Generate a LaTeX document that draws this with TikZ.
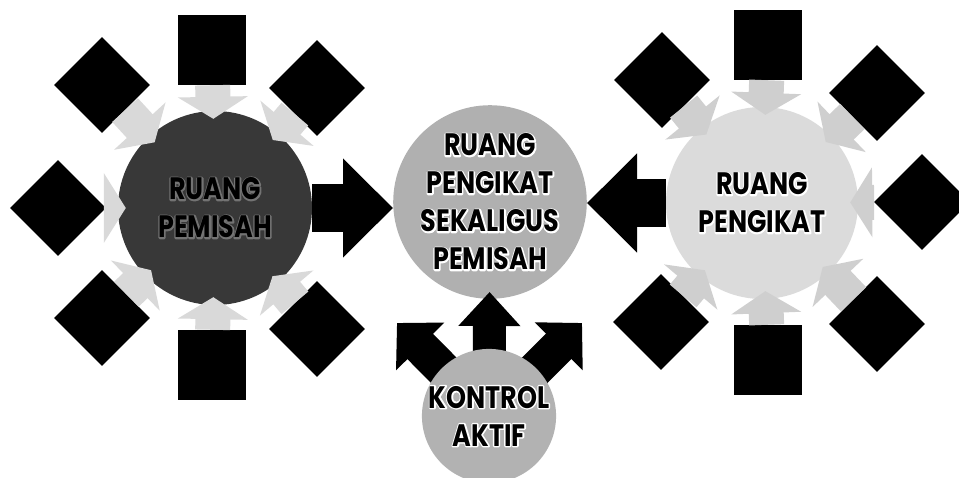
\documentclass[tikz,border=0pt]{standalone}
\usepackage{fontspec}
\newfontfamily\lblfont{Poppins}[FakeStretch=0.82]
\usetikzlibrary{shapes.geometric, arrows.meta}

% outline under the text (stroke only, grey level #1), then the text itself
\newcommand{\halo}[2][1]{\makebox[0pt][l]{\special{pdf:literal 1 Tr #1 G 2.8 w 1 j}#2\special{pdf:literal 0 Tr 0 G 1 w}}#2}

\tikzset{
  blob/.style={fill=black, draw=none, inner sep=0pt},
  sqbox/.style={blob, rectangle, minimum width=68, minimum height=70},
  dmd/.style={blob, diamond, minimum size=96},
  ruang/.style={circle, draw=none, inner sep=0pt, align=center,
    font=\lblfont\bfseries\fontsize{31}{38}\selectfont},
  inarrow/.style={draw=#1, line width=35pt, -{Triangle[width=69pt,length=22pt]}, shorten >=-8pt},
  inarrow/.default=gray!30,
  bigarrow/.style={draw=black, line width=48pt, -{Triangle[width=96pt,length=50pt]}},
  outarrow/.style={draw=black, line width=36pt, -{Triangle[width=66pt,length=33pt]}}
}

\begin{document}
\begin{tikzpicture}[x=1pt, y=-1pt]
\useasboundingbox (0,0) rectangle (959,478);

% left cluster
\node[ruang, fill=black!78, minimum size=194] (pemisah) at (215,208)
  {\halo[0.45]{RUANG}\\\halo[0.45]{PEMISAH}};
\node[sqbox] (tsqA) at (212,50) {};
\node[sqbox] (bsqA) at (212,365) {};
\node[dmd] (tlA) at (102,85) {};
\node[dmd] (trA) at (317,88) {};
\node[dmd] (lA) at (58,208) {};
\node[dmd] (blA) at (102,318) {};
\node[dmd] (brA) at (317,329) {};
\foreach \s in {tsqA,bsqA,tlA,trA,lA,blA,brA}
  \draw[inarrow] (\s) -- (pemisah);

% right cluster
\node[ruang, fill=gray!28, minimum size=192] (pengikat) at (762,203)
  {\halo{RUANG}\\\halo{PENGIKAT}};
\node[sqbox] (tsqB) at (768,45) {};
\node[sqbox] (bsqB) at (768,360) {};
\node[dmd] (tlB) at (662,80) {};
\node[dmd] (trB) at (877,93) {};
\node[dmd] (rB) at (922,202) {};
\node[dmd] (blB) at (661,322) {};
\node[dmd] (brB) at (877,324) {};
\foreach \s in {tsqB,bsqB,tlB,trB,rB,blB,brB}
  \draw[inarrow=gray!38] (\s) -- (pengikat);

% center
\node[ruang, fill=gray!62, minimum size=180] (sekaligus) at (490,202)
  {\halo{RUANG}\\\halo{PENGIKAT}\\\halo{SEKALIGUS}\\\halo{PEMISAH}};
\draw[bigarrow] (pemisah.east) -- (pemisah.east -| sekaligus.west);
\draw[bigarrow] (pengikat.west) -- (pengikat.west -| sekaligus.east);

% kontrol
\coordinate (kl) at (397,323);
\coordinate (kr) at (582,323);
\node[ruang, fill=gray!60, minimum size=120] (kontrol) at (489,416) {};
\draw[outarrow] (kontrol) -- (kl);
\draw[outarrow] (kontrol) -- (kr);
\draw[draw=black, line width=33pt, -{Triangle[width=60pt,length=34pt]}, shorten >=-7pt] (kontrol) -- (sekaligus);
\node[ruang, fill=gray!60, minimum size=120] at (kontrol) {\halo{KONTROL}\\\halo{AKTIF}};
\end{tikzpicture}
\end{document}
